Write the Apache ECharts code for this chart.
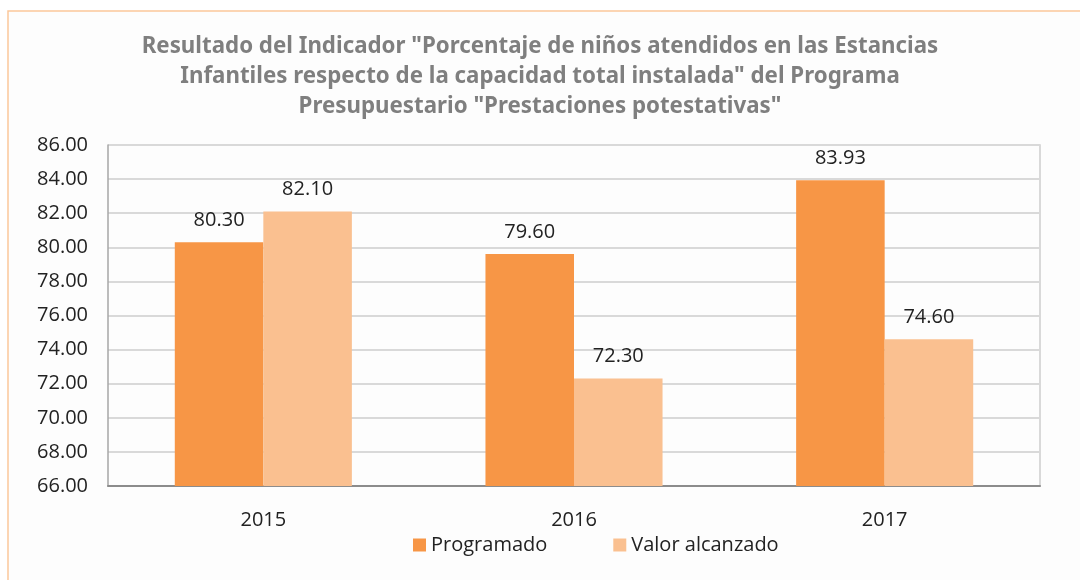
<!DOCTYPE html>
<html>
<head>
<meta charset="utf-8">
<script src="https://cdn.jsdelivr.net/npm/echarts@6/dist/echarts.min.js"></script>
<style>
  html, body { margin: 0; padding: 0; background: #fff; }
  #chart { width: 1080px; height: 580px; }
</style>
</head>
<body>
<div id="chart"></div>
<script>
// datos
const years = ['2015', '2016', '2017'];
const programado = [80.30, 79.60, 83.93];
const valorAlcanzado = [82.10, 72.30, 74.60];

const titleText = 'Resultado del Indicador "Porcentaje de niños atendidos en las Estancias\n' +
  'Infantiles respecto de la capacidad total instalada" del Programa\n' +
  'Presupuestario "Prestaciones potestativas"';

const txtFont = '"Open Sans", "Noto Sans", sans-serif';

const drawEcharts = (option, id) => {
  let dom = document.getElementById(id)
  let echart = echarts.init(dom)
  option && echart.setOption(option)
}

const option = {
  animation: false,
  backgroundColor: '#fff',
  graphic: [{
    type: 'rect',
    shape: { x: 8, y: 11, width: 1100, height: 600 },
    style: { fill: '#fdfdfd', stroke: '#fbc79b', lineWidth: 1.5 },
    z: -10
  }],
  title: {
    text: titleText,
    left: 'center',
    top: 27,
    textStyle: {
      fontFamily: '"Noto Sans", sans-serif',
      fontWeight: 'bold',
      fontSize: 22.3,
      color: '#7f7f7f',
      lineHeight: 30
    }
  },
  legend: {
    bottom: 20,
    left: 408,
    itemWidth: 13,
    itemHeight: 13,
    itemGap: 66,
    icon: 'rect',
    textStyle: { fontFamily: txtFont, fontSize: 20, color: '#222' },
    data: ['Programado', 'Valor alcanzado']
  },
  grid: { left: 108, right: 40, top: 145, bottom: 94 },
  xAxis: {
    type: 'category',
    data: years,
    axisLine: { lineStyle: { color: '#8c8c8c', width: 2 } },
    axisTick: { show: false },
    axisLabel: { fontFamily: txtFont, fontSize: 20, color: '#222', margin: 24 }
  },
  yAxis: [{
    type: 'value',
    min: 66,
    max: 86,
    interval: 2,
    axisLine: { show: true, lineStyle: { color: '#a6a6a6', width: 1.5 } },
    axisTick: { show: false },
    splitLine: { lineStyle: { color: '#d9d9d9', width: 2 } },
    axisLabel: {
      fontFamily: txtFont, fontSize: 20, color: '#222', margin: 20,
      formatter: v => v.toFixed(2)
    }
  }, {
    type: 'value',
    position: 'right',
    min: 66,
    max: 86,
    interval: 2,
    axisLine: { show: true, lineStyle: { color: '#d9d9d9', width: 2 } },
    axisTick: { show: false },
    axisLabel: { show: false },
    splitLine: { show: false }
  }],
  series: [
    {
      name: 'Programado',
      type: 'bar',
      data: programado,
      barGap: '0%',
      barCategoryGap: '43%',
      itemStyle: { color: '#f79646' },
      label: {
        show: true, position: 'top', distance: 12,
        fontFamily: txtFont, fontSize: 20, color: '#222',
        formatter: p => p.value.toFixed(2)
      }
    },
    {
      name: 'Valor alcanzado',
      type: 'bar',
      data: valorAlcanzado,
      itemStyle: { color: '#fac090' },
      label: {
        show: true, position: 'top', distance: 12,
        fontFamily: txtFont, fontSize: 20, color: '#222',
        formatter: p => p.value.toFixed(2)
      }
    }
  ]
}

drawEcharts(option, 'chart')
</script>
</body>
</html>
